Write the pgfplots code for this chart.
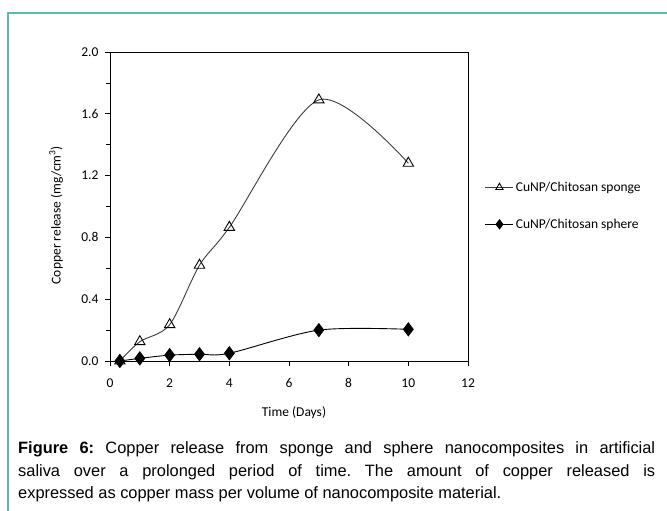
\documentclass[border=0pt]{standalone}
\usepackage{fontspec}
\setmainfont{Liberation Sans}
\newfontfamily\carlito{Carlito}
\usepackage{pgfplots}
\pgfplotsset{compat=1.18}
\definecolor{frametl}{RGB}{88,190,168}
\definecolor{spongec}{RGB}{60,60,60}
\begin{document}
\frenchspacing
\begin{tikzpicture}[x=1pt,y=1pt]
\fill[white] (0,0) rectangle (667,511);
\draw[frametl, line width=1.6pt] (8,0) -- (8,498) -- (667,498);
\begin{axis}[
  at={(110pt,150pt)}, anchor=south west,
  scale only axis, width=358pt, height=309pt,
  xmin=0, xmax=12, ymin=0, ymax=2,
  xtick={0,2,4,6,8,10,12},
  ytick={0,0.4,0.8,1.2,1.6,2.0},
  minor y tick num=1,
  tick align=outside,
  major tick length=5pt, minor tick length=4pt,
  xtick pos=left, ytick pos=left,
  axis line style={black, line width=0.8pt},
  tick style={black, line width=0.7pt},
  /pgf/number format/assume math mode=true,
  yticklabel style={/pgf/number format/fixed, /pgf/number format/fixed zerofill, /pgf/number format/precision=1, xshift=-3pt},
  ticklabel style={font=\carlito\fontsize{13.5}{16}\selectfont},
  xticklabel style={yshift=-9pt},
  xlabel={Time (Days)},
  ylabel={Copper release (mg/cm\textsuperscript{3})},
  label style={font=\carlito\fontsize{13.5}{16}\selectfont},
  xlabel style={at={(axis description cs:0.5,0)}, anchor=base, yshift=-56pt, xshift=5pt},
  ylabel style={at={(axis description cs:0,0.472)}, anchor=center, yshift=54pt},
  legend style={at={(1.047,0.502)}, anchor=west, draw=none, fill=none,
    font=\carlito\fontsize{13.5}{16}\selectfont, row sep=22pt,
    inner sep=0pt, cells={anchor=west}},
  legend cell align=left,
  legend image code/.code={
    \draw[#1, every mark/.append style={scale=0.7}, mark repeat=2, mark phase=2]
      plot coordinates {(0pt,0pt) (14pt,0pt) (28pt,0pt)};
  },
  clip=false,
]
\addplot[spongec, line width=0.9pt, smooth, tension=0.5,
  mark=triangle, mark size=6pt, mark options={solid, line width=0.9pt, fill=white, draw=black}]
  coordinates {(0.33,0) (1,0.125) (2,0.235) (3,0.62) (4,0.865) (7,1.69) (10,1.28)};
\addlegendentry{CuNP/Chitosan sponge}
\addplot[black, line width=0.9pt, smooth, tension=0.5,
  mark=diamond*, mark size=6.5pt, mark options={solid, fill=black}]
  coordinates {(0.33,0) (1,0.017) (2,0.038) (3,0.044) (4,0.05) (7,0.2) (10,0.205)};
\addlegendentry{CuNP/Chitosan sphere}
\end{axis}
\node[anchor=base west, inner sep=0pt, text width=637pt, align=justify,
  font=\fontsize{16.4}{22.3}\selectfont] at (18,57)
  {\textbf{Figure 6:} Copper release from sponge and sphere nanocomposites in artificial\linebreak
   saliva over a prolonged period of time. The amount of copper released is\linebreak
   expressed as copper mass per volume of nanocomposite material.};
\pgfresetboundingbox
\path (0,0) rectangle (667,511);
\end{tikzpicture}
\end{document}
